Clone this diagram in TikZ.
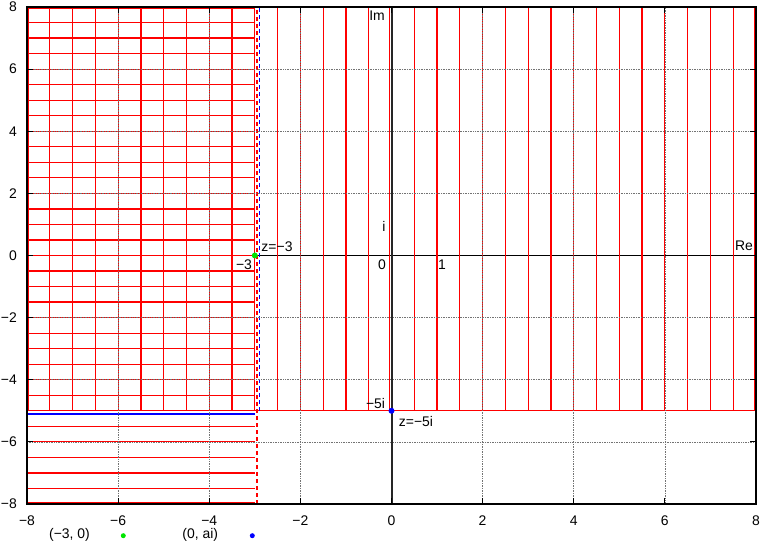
\documentclass[tikz,border=0pt]{standalone}
\usepackage{fontspec}
\setmainfont{Liberation Sans}
\begin{document}
\begin{tikzpicture}[x=45.56bp,y=31.06bp,
  lbl/.style={inner sep=0pt, font=\fontsize{14}{16}\selectfont},
  tlbl/.style={inner sep=0pt, font=\fontsize{14}{16}\selectfont},
  redl/.style={red, line width=1.2bp},
  gridl/.style={black!55, densely dotted, line width=0.7bp},
  tick/.style={black, line width=0.8bp},
]
\useasboundingbox (-8.5931,-9.3207) rectangle (8.1541,8.2260);
\fill[white] (-8.5931,-9.3207) rectangle (8.1541,8.2260);
% y = 0 axis
\draw[black, line width=0.9bp] (-8,0) -- (8,0);
% left region: horizontal red lines
\foreach \k in {1,...,31} {
  \pgfmathsetmacro{\yy}{8-0.5*\k}
  \draw[redl] (-8,\yy) -- (-3,\yy);
}
\draw[redl] (-8,7.96) -- (-3,7.96);
\draw[redl] (-8,-7.97) -- (-3,-7.97);
% left region: vertical red lines
\draw[redl] (-7.975,-5) -- (-7.975,8);
\foreach \xx in {-7.5,-7,...,-3} { \draw[redl] (\xx,-5) -- (\xx,8); }
% right region: vertical red lines
\foreach \xx in {-2.5,-2,...,-0.5,0.5,1,...,7.5} { \draw[redl] (\xx,-5) -- (\xx,8); }
\draw[redl] (7.975,-5) -- (7.975,8);
\draw[redl] (-0.04,-5) -- (-0.04,8);
% line Im z = -5
\draw[redl] (-8,-5) -- (8,-5);
% blue line
\draw[blue, line width=1.2bp] (-8,-5.1) -- (-3,-5.1);
% dashed vertical lines
\draw[red, line width=1.2bp, dash pattern=on 4bp off 3bp] (-2.95,-8) -- (-2.95,8);
\draw[blue, line width=1.2bp, dash pattern=on 4bp off 3bp] (-2.9,-5) -- (-2.9,8);
% grid
\foreach \v in {-6,-4,-2,2,4,6} {
  \draw[gridl] (\v,-8) -- (\v,8);
  \draw[gridl] (-8,\v) -- (8,\v);
}
% x = 0 axis
\draw[black!85, line width=2bp] (0,-8) -- (0,8);
% frame
\draw[black, line width=1.2bp] (-8,-8) rectangle (8,8);
% ticks and labels
\foreach \v/\t in {-8/−8,-6/−6,-4/−4,-2/−2,0/0,2/2,4/4,6/6,8/8} {
  \draw[tick] (\v,-8) -- ++(0pt,6bp);
  \draw[tick] (\v,8) -- ++(0pt,-6bp);
  \draw[tick] (-8,\v) -- ++(6bp,0pt);
  \draw[tick] (8,\v) -- ++(-6bp,0pt);
  \node[tlbl, anchor=center] (xl\v) at (\v,-8.542) {\t};
  \node[tlbl, anchor=east] (yl\v) at (-8.22,\v) {\t};
}
% points
\fill[green!90!black] (-3,0) circle (3bp);
\fill[blue] (0,-5) circle (3bp);
% labels
\node[lbl] (im) at (-0.318,7.711) {Im};
\node[lbl] (re) at (7.737,0.322) {Re};
\node[lbl] (ii) at (-0.165,0.950) {i};
\node[lbl] (zero) at (-0.209,-0.306) {0};
\node[lbl] (one) at (1.108,-0.306) {1};
\node[lbl] (m3) at (-3.237,-0.306) {−3};
\node[lbl] (z3) at (-2.513,0.290) {z=−3};
\node[lbl] (m5i) at (-0.351,-4.781) {−5i};
\node[lbl] (z5i) at (0.538,-5.344) {z=−5i};
% legend
\node[lbl] (leg1) at (-7.068,-9.003) {(−3, 0)};
\fill[green!90!black] (-5.887,-9.021) circle (2.5bp);
\node[lbl] (leg2) at (-4.197,-9.003) {(0, ai)};
\fill[blue] (-3.055,-9.021) circle (2.5bp);
\end{tikzpicture}
\end{document}
